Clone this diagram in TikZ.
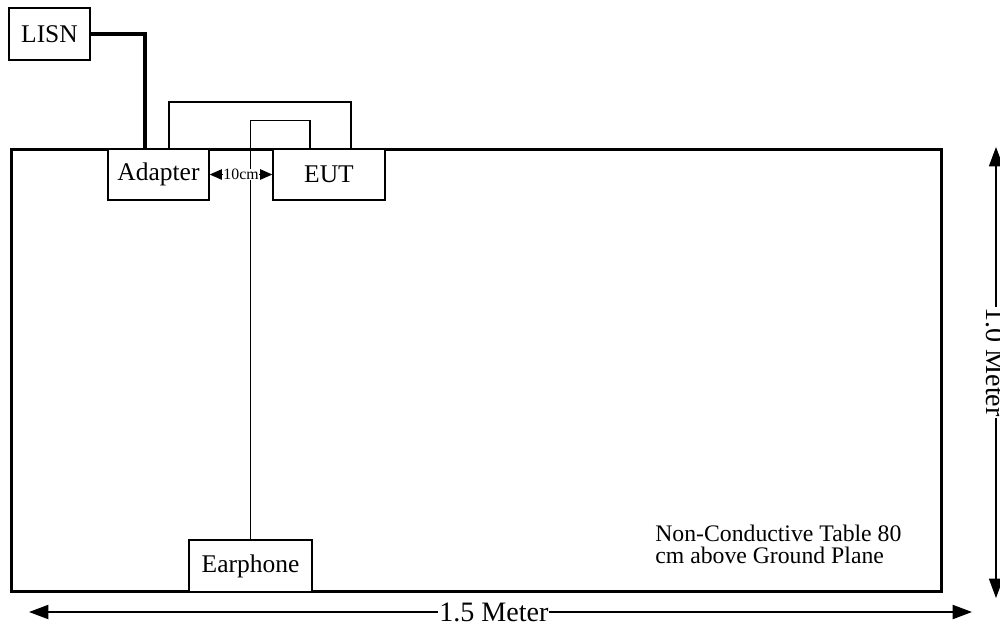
\documentclass[tikz,border=0pt]{standalone}
\usepackage{fontspec}
\setmainfont{Liberation Serif}
\usetikzlibrary{arrows.meta, positioning}

\begin{document}
\begin{tikzpicture}[x=0.02cm, y=-0.02cm,
    box/.style={draw, line width=0.8pt, fill=white, inner sep=0pt, minimum height=1.02cm, font=\fontsize{14.5}{16}\selectfont},
    tabletop/.style={draw, line width=1.7pt, inner sep=0pt},
    powercable/.style={draw, line width=1.8pt},
    cable/.style={draw, line width=0.6pt},
    dim/.style={line width=0.6pt, {Triangle[length=7pt, width=6pt]}-{Triangle[length=7pt, width=6pt]}},
    bigdim/.style={line width=1pt, {Triangle[length=11pt, width=8pt]}-{Triangle[length=11pt, width=8pt]}}]
    \useasboundingbox (0,0) rectangle (1000,626);

    \node (table) [tabletop, minimum width=18.62cm, minimum height=8.86cm] at (476.5,370.5) {};
    \node (note) [anchor=base west, align=left, inner sep=0pt, font=\fontsize{13.5}{12.5}\selectfont] at (655,563) {Non-Conductive Table 80\\cm above Ground Plane};

    \node (LISN) [box, minimum width=1.62cm, minimum height=1.04cm] at (49.5,34) {LISN};
    \coordinate (lisnIn) at (145,149);
    \coordinate (adOut) at (169,149);
    \coordinate (eutOut) at (351,149);
    \coordinate (eutIn) at (310,149);

    \path [powercable] (LISN.east) -| (lisnIn);
    \path [cable] (adOut) -- ++(0,-47) -| (eutOut);

    \node (Earphone) [box, minimum width=2.46cm, minimum height=1.04cm] at (250.5,566) {Earphone};
    \path [cable] (Earphone.north) -- ++(0,-419) -| (eutIn);

    \node (Adapter) [box, minimum width=2.02cm] at (158.5,174.5) {Adapter};
    \node (EUT) [box, minimum width=2.24cm] at (329,174.5) {EUT};

    \draw [dim] (Adapter.east) -- node [fill=white, inner sep=0.3pt, font=\fontsize{9}{10}\selectfont] {10cm} (EUT.west);

    \coordinate (dimL) at (29,612);
    \coordinate (dimR) at (972,612);
    \draw [bigdim] (dimL) -- node [pos=0.493, fill=white, inner sep=0.5pt, font=\fontsize{16}{18}\selectfont] {1.5 Meter} (dimR);

    \coordinate (dimT) at (996,147);
    \coordinate (dimB) at (996,598);
    \draw [bigdim, line width=0.6pt] (dimT) -- node [pos=0.477, fill=white, inner sep=0.5pt, rotate=-90, font=\fontsize{16}{18}\selectfont] {1.0 Meter} (dimB);
\end{tikzpicture}
\end{document}
